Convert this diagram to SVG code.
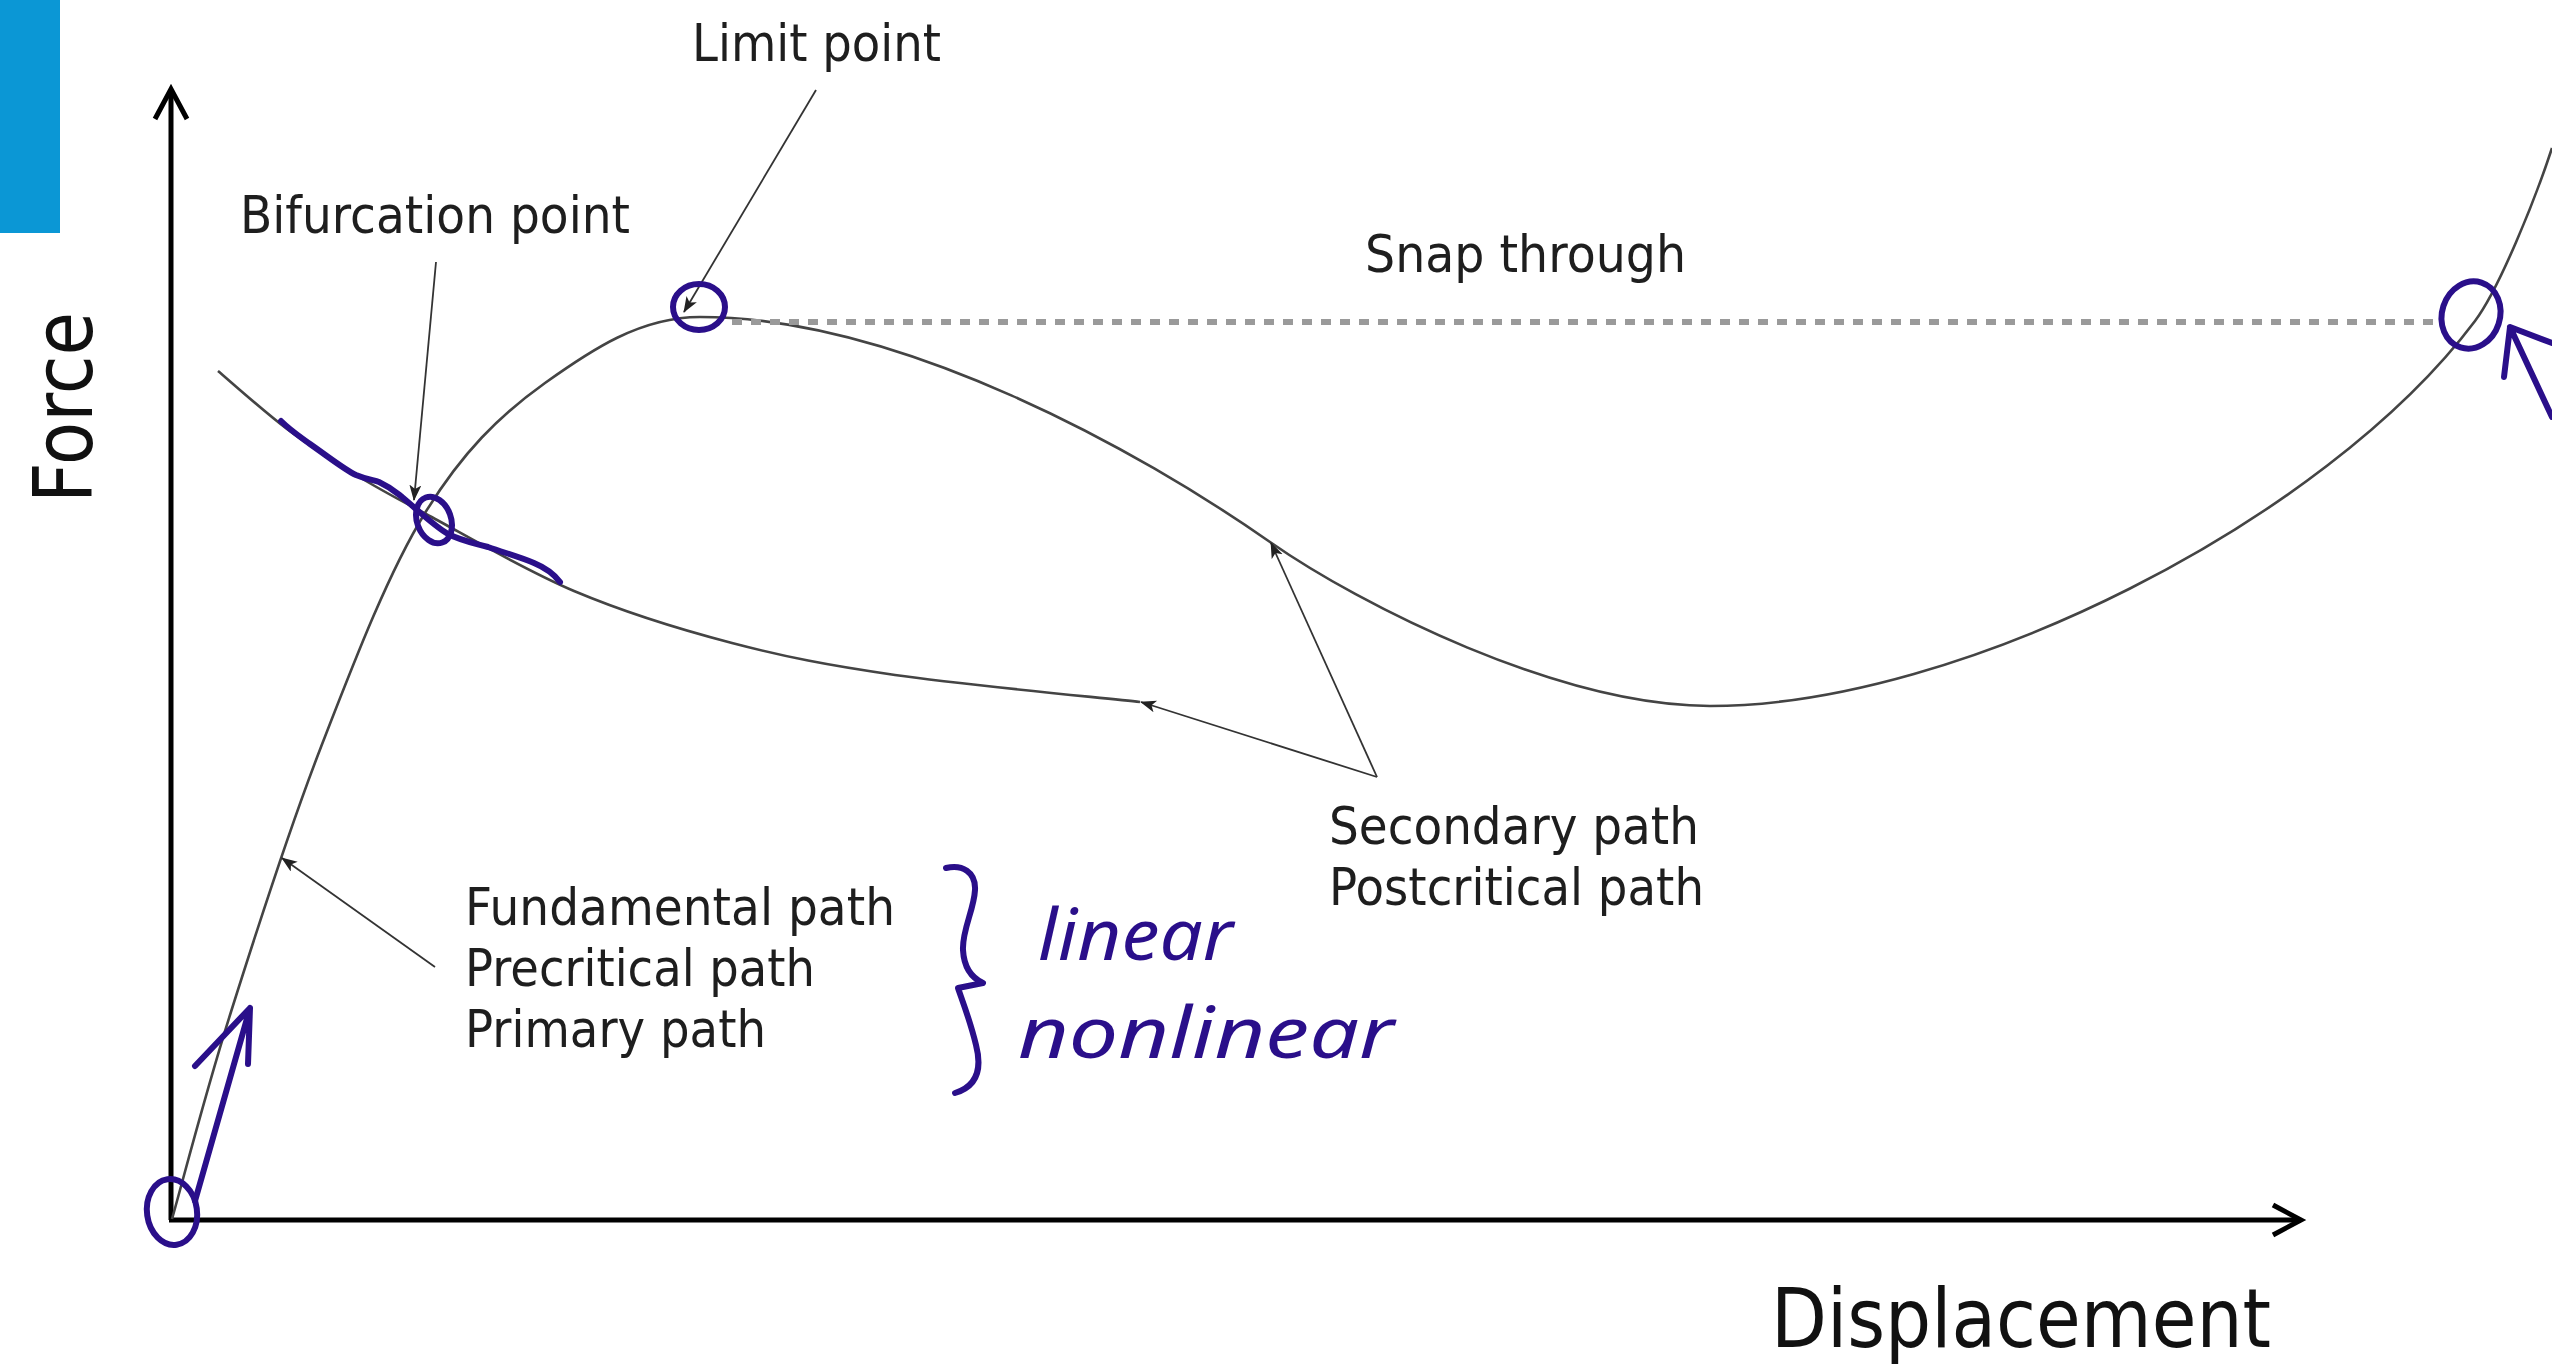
<svg xmlns="http://www.w3.org/2000/svg" width="2552" height="1366" viewBox="0 0 2552 1366">
<defs>
<marker id="ah" markerUnits="userSpaceOnUse" markerWidth="20" markerHeight="14" refX="15" refY="6" orient="auto">
<path d="M0,0 L16,6 L0,12 L4,6 Z" fill="#222"/>
</marker>
<style>
.lbl{font-family:"DejaVu Sans","Liberation Sans",sans-serif;font-size:52px;fill:#1e1e1e}
.ax{font-family:"DejaVu Sans","Liberation Sans",sans-serif;font-size:82px;fill:#111}
.curve{fill:none;stroke:#444;stroke-width:2.6}
.lead{fill:none;stroke:#333;stroke-width:1.8}
.axis{fill:none;stroke:#000;stroke-width:5;stroke-linejoin:miter}
.ink{fill:none;stroke:#2a0f8a;stroke-width:6;stroke-linecap:round;stroke-linejoin:round}
.hand{font-family:"Noto Sans","DejaVu Sans",sans-serif;font-style:italic;font-size:72px;fill:#2a0f8a}
</style>
</defs>
<rect width="2552" height="1366" fill="#fff"/>
<rect id="bluebar" x="0" y="0" width="60" height="233" fill="#0b97d5"/>

<g id="axes">
<line class="axis" x1="171" y1="1220" x2="171" y2="92"/>
<polyline class="axis" points="155,119 171,89 187,119"/>
<line class="axis" x1="169" y1="1220" x2="2298" y2="1220"/>
<polyline class="axis" points="2273,1205 2301,1220 2273,1235"/>
</g>

<g id="curves">
<path id="primary" class="curve" d="M172,1219 C181.7,1185 205.2,1093.7 230,1015 C254.8,936.3 288.5,830.7 321,747 C353.5,663.3 387.7,573.7 425,513 C462.3,452.3 499.2,415.7 545,383 C590.8,350.3 640,317 700,317 C900,317 1140,451 1270,542 C1360,605 1560,706 1710,706 C1960,706 2325,521 2475,321 C2499,289 2535,200 2552,148"/>
<path id="secondary" class="curve" d="M218,371 C229.5,380.7 264,411.7 287,429 C310,446.3 332.8,460.8 356,475 C379.2,489.2 389.7,494.7 426,514 C462.3,533.3 523,569.5 574,591 C625,612.5 678.5,629 732,643 C785.5,657 827,665.2 895,675 C963,684.8 1099.2,697.5 1140,702"/>
<line id="snap" x1="732" y1="322" x2="2442" y2="322" stroke="#9a9a9a" stroke-width="6" stroke-dasharray="10 9"/>
</g>

<g id="connectors">
<line class="lead" x1="816" y1="90" x2="684" y2="312" marker-end="url(#ah)"/>
<line class="lead" x1="436" y1="262" x2="414" y2="500" marker-end="url(#ah)"/>
<line class="lead" x1="435" y1="967" x2="282" y2="858" marker-end="url(#ah)"/>
<line class="lead" x1="1377" y1="777" x2="1141" y2="702" marker-end="url(#ah)"/>
<line class="lead" x1="1377" y1="777" x2="1271" y2="543" marker-end="url(#ah)"/>
</g>

<g id="node-limit"><text class="lbl" x="692" y="61" textLength="249" lengthAdjust="spacingAndGlyphs">Limit point</text></g>
<g id="node-bifurcation"><text class="lbl" x="240" y="233" textLength="390" lengthAdjust="spacingAndGlyphs">Bifurcation point</text></g>
<g id="node-snap"><text class="lbl" x="1365" y="272" textLength="321" lengthAdjust="spacingAndGlyphs">Snap through</text></g>
<g id="node-fundamental">
<text class="lbl" x="465" y="925" textLength="430" lengthAdjust="spacingAndGlyphs">Fundamental path</text>
<text class="lbl" x="465" y="986" textLength="350" lengthAdjust="spacingAndGlyphs">Precritical path</text>
<text class="lbl" x="465" y="1047" textLength="301" lengthAdjust="spacingAndGlyphs">Primary path</text>
</g>
<g id="node-secondary">
<text class="lbl" x="1329" y="844" textLength="370" lengthAdjust="spacingAndGlyphs">Secondary path</text>
<text class="lbl" x="1329" y="905" textLength="375" lengthAdjust="spacingAndGlyphs">Postcritical path</text>
</g>
<g id="node-displacement"><text class="ax" x="1771" y="1347" font-size="80" textLength="500" lengthAdjust="spacingAndGlyphs">Displacement</text></g>
<g id="node-force"><text class="ax" transform="translate(92,503) rotate(-90)" x="0" y="0" textLength="191" lengthAdjust="spacingAndGlyphs">Force</text></g>

<g id="annotations">
<ellipse class="ink" cx="172" cy="1212" rx="25" ry="33" transform="rotate(-8 172 1212)"/>
<path class="ink" d="M195,1201 L250,1008 M195,1066 L250,1008 L248,1064"/>
<path class="ink" d="M281,421 C290,430 299,436 310,444 C330,458 345,470 356,475 C368,480 374,480 379,482 C392,488 398,494 402,497 C420,512 434,526 448,534 C462,541 474,543 488,547 C505,553 520,557 534,563 C546,568 554,574 560,582"/>
<ellipse class="ink" cx="434" cy="520" rx="17" ry="24" transform="rotate(-20 434 520)"/>
<ellipse class="ink" cx="699" cy="307" rx="26" ry="23"/>
<ellipse class="ink" cx="2471" cy="315" rx="29" ry="34" transform="rotate(18 2471 315)"/>
<path class="ink" d="M2552,417 L2510,327 M2504,377 L2510,327 L2552,343"/>
<path class="ink" d="M946,868 C962,864 976,872 975,890 C974,910 962,930 963,950 C964,968 972,978 983,983 L958,988 C962,1000 970,1020 976,1045 C982,1068 978,1086 955,1093"/>
<text class="hand" x="1038" y="960" textLength="195" lengthAdjust="spacingAndGlyphs">linear</text>
<text class="hand" x="1018" y="1058" textLength="376" lengthAdjust="spacingAndGlyphs">nonlinear</text>
</g>
</svg>
